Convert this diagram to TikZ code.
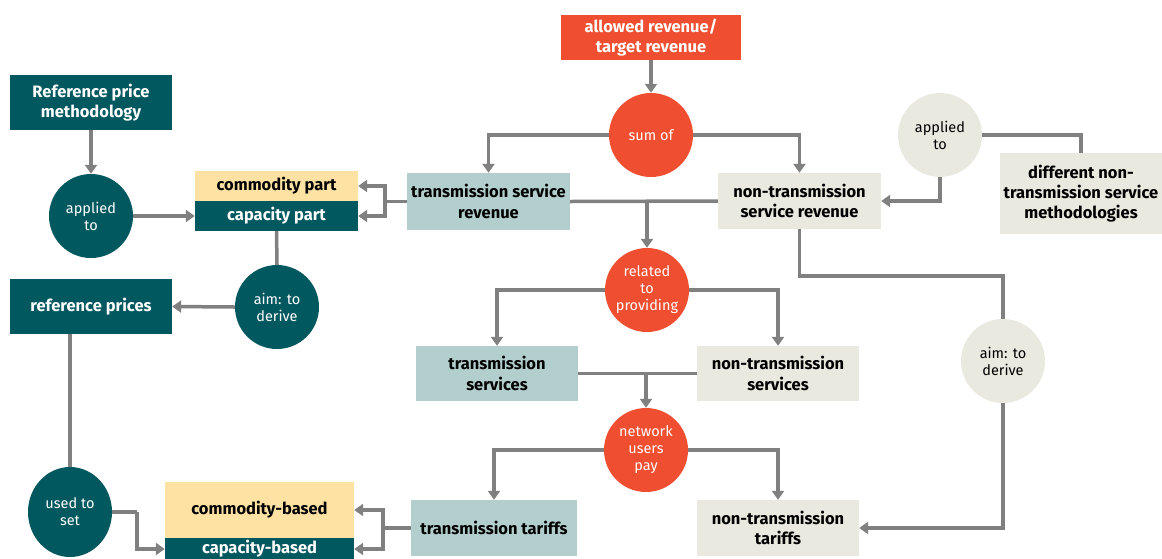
\documentclass[tikz,border=0pt]{standalone}
\usepackage{fontspec}
\setmainfont{Fira Sans}
\usetikzlibrary{arrows.meta,positioning,shapes.geometric}
\definecolor{cred}{HTML}{F04E30}
\definecolor{cdark}{HTML}{02585F}
\definecolor{clight}{HTML}{B3CFCD}
\definecolor{cbeige}{HTML}{E9E9E0}
\definecolor{cyellow}{HTML}{FDE2A4}
\definecolor{cline}{HTML}{808080}
\tikzset{
  box/.style={rectangle, inner sep=0pt, align=center, font=\bfseries\fontsize{16.5}{20.3}\selectfont},
  circ/.style={circle, minimum size=84pt, inner sep=0pt, align=center, font=\fontsize{14.5}{17}\selectfont},
  conn/.style={draw=cline, line width=3.5pt},
  arr/.style={conn, -{Triangle[width=12pt,length=9pt]}},
  redbox/.style={box, fill=cred, text=white},
  darkbox/.style={box, fill=cdark, text=white},
  lightbox/.style={box, fill=clight, text=black},
  beigebox/.style={box, fill=cbeige, text=black},
  yelbox/.style={box, fill=cyellow, text=black},
  redcirc/.style={circ, fill=cred, text=white},
  darkcirc/.style={circ, fill=cdark, text=white},
  beigecirc/.style={circ, fill=cbeige, text=black},
}
\begin{document}
\begin{tikzpicture}[x=1pt,y=-1pt]
\useasboundingbox (0,0) rectangle (1162,558);
% nodes
\node[redbox, minimum width=180pt, minimum height=45pt] (allowed) at (651,37.5) {allowed revenue/\\target revenue};
\node[redcirc] (sum) at (651,135) {sum of};
\node[lightbox, minimum width=163pt, minimum height=57pt] (tsr) at (488.5,201.5) {transmission service\\revenue};
\node[beigebox, minimum width=163pt, minimum height=56pt] (ntsr) at (799.5,201) {non-transmission\\service revenue};
\node[beigecirc] (app2) at (940,135) {applied\\to};
\node[beigebox, minimum width=162pt, minimum height=81pt] (diff) at (1081,193.5) {different non-\\transmission service\\methodologies};
\node[yelbox, minimum width=163pt, minimum height=30pt] (comm) at (276.5,186) {commodity part};
\node[darkbox, minimum width=163pt, minimum height=30pt] (cap) at (276.5,216) {capacity part};
\node[darkbox, minimum width=162pt, minimum height=55pt] (rpm) at (91,102.5) {Reference price\\methodology};
\node[darkcirc] (app1) at (91,216) {applied\\to};
\node[darkcirc] (aim1) at (277,307) {aim: to\\derive};
\node[darkbox, minimum width=162pt, minimum height=55pt] (refp) at (91,306.5) {reference prices};
\node[ellipse, fill=cdark, text=white, minimum width=84pt, minimum height=90pt, inner sep=0pt, align=center, font=\fontsize{14.5}{17}\selectfont] (used) at (70,512) {used to\\set};
\node[yelbox, minimum width=189pt, minimum height=56pt] (cb) at (259.5,510) {commodity-based};
\node[darkbox, minimum width=189pt, minimum height=22pt] (cab) at (259.5,549) {capacity-based};
\node[lightbox, minimum width=166pt, minimum height=56pt] (tt) at (494,528) {transmission tariffs};
\node[lightbox, minimum width=162pt, minimum height=55pt] (ts) at (497,373.5) {transmission\\services};
\node[beigebox, minimum width=162pt, minimum height=55pt] (nts) at (778,373.5) {non-transmission\\services};
\node[redcirc] (rel) at (647,290) {related\\to\\providing};
\node[redcirc] (net) at (646,450) {network\\users\\pay};
\node[beigebox, minimum width=162pt, minimum height=56pt] (ntt) at (778,528) {non-transmission\\tariffs};
\node[beigecirc] (aim2) at (1003,361) {aim: to\\derive};
% junction coordinates
\coordinate (j1) at (385,201.5);
\coordinate (j3) at (137,512);
\coordinate (j4) at (383,528);
\coordinate (j5) at (799.5,276);
% connectors
\draw[arr] (allowed.south) -- (sum.north);
\draw[arr] (sum.west) -| (tsr.north);
\draw[arr] (sum.east) -| (ntsr.north);
\draw[conn] (app2.east) -| (diff.north);
\draw[arr] (app2.south) |- (ntsr.east);
\draw[conn] (tsr.east) -- (ntsr.west);
\draw[arr] (tsr.east -| rel.north) -- (rel.north);
\draw[conn] (tsr.west) -- (j1);
\draw[arr] (j1) |- (comm.east);
\draw[arr] (j1) |- (cap.east);
\draw[arr] (rpm.south) -- (app1.north);
\draw[arr] (app1.east) -- (cap.west);
\draw[conn] (cap.south) -- (aim1.north);
\draw[arr] (aim1.west) -- (refp.east);
\draw[conn] (refp.south -| used.north) -- (used.north);
\draw[conn] (used.east) -- (j3);
\draw[arr] (j3) |- (cab.west);
\draw[conn] (tt.west) -- (j4);
\draw[arr] (j4) |- (cb.east);
\draw[arr] (j4) |- (cab.east);
\draw[arr] (rel.west) -| (ts.north);
\draw[arr] (rel.east) -| (nts.north);
\draw[conn] (ts.east) -- (nts.west);
\draw[arr] (ts.east -| net.north) -- (net.north);
\draw[arr] (net.west) -| (tt.north);
\draw[arr] (net.east) -| (ntt.north);
\draw[conn] (ntsr.south) -- (j5) -| (aim2.north);
\draw[arr] (aim2.south) |- (ntt.east);
\end{tikzpicture}
\end{document}
